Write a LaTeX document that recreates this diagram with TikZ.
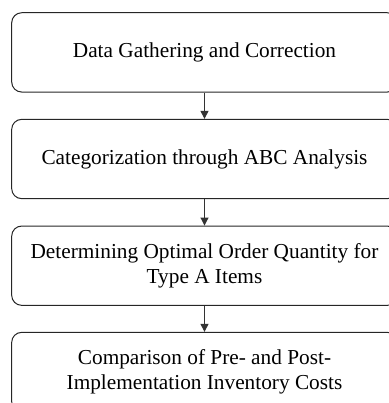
\documentclass[tikz,border=0pt]{standalone}
\usepackage{fontspec}
\setmainfont{Liberation Serif}
\usetikzlibrary{arrows.meta}
\tikzset{
  stepbox/.style={draw=black!85, line width=1pt, rounded corners=10pt,
    minimum width=385.6pt, minimum height=79.3pt, align=center,
    font=\fontsize{21.3}{24.5}\selectfont, inner sep=0pt},
  flow/.style={draw=black!80, line width=1pt, -{Triangle[width=8pt,length=8pt]}}
}
\begin{document}
\begin{tikzpicture}[x=1pt,y=-1pt]
\useasboundingbox (0,0) rectangle (388,403);
\node[stepbox] (b1) at (204.5,52.4) {Data Gathering and Correction};
\node[stepbox] (b2) at (204.5,159) {Categorization through ABC Analysis};
\node[stepbox] (b3) at (204.5,265.7) {Determining Optimal Order Quantity for\\Type A Items};
\node[stepbox] (b4) at (204.5,372) {Comparison of Pre- and Post-\\Implementation Inventory Costs};
\draw[flow] (b1) -- (b2);
\draw[flow] (b2) -- (b3);
\draw[flow] (b3) -- (b4);
\end{tikzpicture}
\end{document}
